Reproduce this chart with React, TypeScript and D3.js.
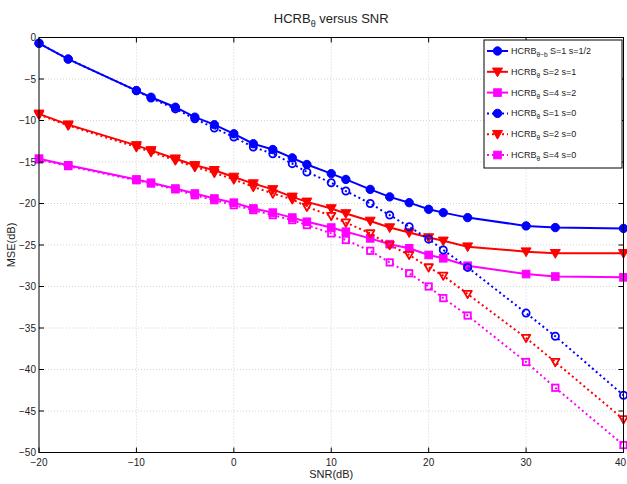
import * as d3 from "d3";

// SNR sample points (dB)
const snr = [-20, -17, -10, -8.5, -6, -4, -2, 0, 2, 4, 6, 7.5, 10, 11.5, 14, 16, 18, 20, 21.5, 24, 30, 33, 40];

// MSE (dB) per configuration
const s1Half = [-0.7, -2.6, -6.4, -7.2, -8.4, -9.6, -10.5, -11.6, -12.8, -13.5, -14.5, -15.3, -16.4, -17.1, -18.3, -19.2, -19.9, -20.7, -21.1, -21.7, -22.7, -22.9, -23.0];
const s2One = [-9.2, -10.5, -13.0, -13.6, -14.6, -15.4, -16.0, -16.8, -17.6, -18.3, -19.2, -19.8, -20.6, -21.2, -22.1, -22.9, -23.5, -24.1, -24.5, -25.2, -25.8, -26.0, -26.0];
const s4Two = [-14.6, -15.4, -17.1, -17.5, -18.2, -18.8, -19.4, -19.9, -20.6, -21.1, -21.7, -22.2, -22.9, -23.4, -24.2, -24.9, -25.4, -26.2, -26.6, -27.5, -28.5, -28.8, -28.9];
const s1Zero = [-0.7, -2.6, -6.4, -7.3, -8.6, -9.8, -10.9, -12.0, -13.2, -14.0, -15.2, -16.2, -17.5, -18.5, -20.0, -21.4, -22.8, -24.3, -25.6, -27.7, -33.2, -36.0, -43.1];
const s2Zero = [-9.3, -10.6, -13.2, -13.8, -14.8, -15.6, -16.3, -17.1, -18.0, -18.8, -19.5, -20.4, -21.5, -22.3, -23.6, -25.0, -26.2, -27.7, -28.7, -30.9, -36.2, -39.1, -46.0];
const s4Zero = [-14.7, -15.5, -17.2, -17.6, -18.3, -19.0, -19.6, -20.2, -20.8, -21.4, -22.0, -22.6, -23.6, -24.4, -25.7, -27.1, -28.4, -30.0, -31.4, -33.5, -39.1, -42.2, -49.1];

const xTicks = [-20, -10, 0, 10, 20, 30, 40];
const yTicks = [0, -5, -10, -15, -20, -25, -30, -35, -40, -45, -50];

type Marker = "circle" | "triangle" | "square";

interface Series {
  sub: string;
  label: string;
  values: number[];
  color: string;
  dotted: boolean;
  marker: Marker;
}

const series: Series[] = [
  { sub: "θ−b", label: " S=1 s=1/2", values: s1Half, color: "#0000ff", dotted: false, marker: "circle" },
  { sub: "θ", label: " S=2 s=1", values: s2One, color: "#ff0000", dotted: false, marker: "triangle" },
  { sub: "θ", label: " S=4 s=2", values: s4Two, color: "#ff00ff", dotted: false, marker: "square" },
  { sub: "θ", label: " S=1 s=0", values: s1Zero, color: "#0000ff", dotted: true, marker: "circle" },
  { sub: "θ", label: " S=2 s=0", values: s2Zero, color: "#ff0000", dotted: true, marker: "triangle" },
  { sub: "θ", label: " S=4 s=0", values: s4Zero, color: "#ff00ff", dotted: true, marker: "square" },
];

const W = 627;
const H = 484;
const left = 39;
const right = 623.5;
const top = 37.5;
const bottom = 452.5;
const font = "'Liberation Sans', Arial, Helvetica, sans-serif";

const MarkerShape = ({ kind, x, y, color, open }: { kind: Marker; x: number; y: number; color: string; open: boolean }) => {
  const fill = open ? "none" : color;
  const sw = open ? 1.8 : 1;
  if (kind === "circle") {
    return <circle cx={x} cy={y} r={open ? 3.6 : 4.2} fill={fill} stroke={color} strokeWidth={sw} />;
  }
  if (kind === "triangle") {
    const s = open ? 4.2 : 5;
    const pts = `${x - s},${y - s * 0.75} ${x + s},${y - s * 0.75} ${x},${y + s}`;
    return <polygon points={pts} fill={fill} stroke={color} strokeWidth={sw} strokeLinejoin="round" />;
  }
  const s = open ? 3.2 : 3.8;
  return <rect x={x - s} y={y - s} width={2 * s} height={2 * s} fill={fill} stroke={color} strokeWidth={sw} />;
};

const fmt = (t: number) => (t < 0 ? `−${-t}` : `${t}`);

export default function App() {
  const x = d3.scaleLinear().domain([-20, 40]).range([left, right]);
  const y = d3.scaleLinear().domain([-50, 0]).range([bottom, top]);

  const line = d3
    .line<number>()
    .x((_, i) => x(snr[i]))
    .y((d) => y(d));

  const legX = 484;
  const legY = 40;
  const legW = 138;
  const legH = 128;
  const rowH = 20.8;

  return (
    <svg
      width={W}
      height={H}
      style={{ position: "absolute", left: 0, top: 0, background: "#fff" }}
      fontFamily={font}
    >
      <rect x={0} y={0} width={W} height={H} fill="#fff" />

      {/* grid */}
      <g stroke="#c8c8c8" strokeWidth={0.8} strokeDasharray="1,2">
        {xTicks.slice(1, -1).map((t) => (
          <line key={"gx" + t} x1={x(t)} x2={x(t)} y1={top} y2={bottom} />
        ))}
        {yTicks.slice(1, -1).map((t) => (
          <line key={"gy" + t} x1={left} x2={right} y1={y(t)} y2={y(t)} />
        ))}
      </g>

      {/* data */}
      <defs>
        <clipPath id="plot">
          <rect x={left - 6} y={top - 6} width={right - left + 12} height={bottom - top + 12} />
        </clipPath>
      </defs>
      <g clipPath="url(#plot)">
        {series.map((s, k) => (
          <g key={k}>
            <path
              d={line(s.values) || ""}
              fill="none"
              stroke={s.color}
              strokeWidth={2}
              strokeDasharray={s.dotted ? "2,3" : undefined}
            />
            {s.values.map((v, i) => (
              <MarkerShape key={i} kind={s.marker} x={x(snr[i])} y={y(v)} color={s.color} open={s.dotted} />
            ))}
          </g>
        ))}
      </g>

      {/* axes box and ticks */}
      <rect x={left} y={top} width={right - left} height={bottom - top} fill="none" stroke="#000" strokeWidth={1} />
      <g stroke="#000" strokeWidth={1}>
        {xTicks.map((t) => (
          <g key={"tx" + t}>
            <line x1={x(t)} x2={x(t)} y1={bottom} y2={bottom - 5} />
            <line x1={x(t)} x2={x(t)} y1={top} y2={top + 5} />
          </g>
        ))}
        {yTicks.map((t) => (
          <g key={"ty" + t}>
            <line x1={left} x2={left + 5} y1={y(t)} y2={y(t)} />
            <line x1={right} x2={right - 5} y1={y(t)} y2={y(t)} />
          </g>
        ))}
      </g>

      {/* tick labels */}
      <g fontSize={10} fill="#222">
        {xTicks.map((t, i) => (
          <text
            key={"lx" + t}
            x={i === xTicks.length - 1 ? W - 1 : x(t)}
            y={bottom + 13}
            textAnchor={i === xTicks.length - 1 ? "end" : "middle"}
          >
            {fmt(t)}
          </text>
        ))}
        {yTicks.map((t) => (
          <text key={"ly" + t} x={left - 3} y={y(t) + 3.5} textAnchor="end">
            {fmt(t)}
          </text>
        ))}
      </g>

      {/* axis titles */}
      <text x={(left + right) / 2} y={478} textAnchor="middle" fontSize={11} fill="#222">
        SNR(dB)
      </text>
      <text
        transform={`translate(15,${(top + bottom) / 2}) rotate(-90)`}
        textAnchor="middle"
        fontSize={11}
        fill="#222"
      >
        MSE(dB)
      </text>

      {/* title */}
      <text x={(left + right) / 2} y={23} textAnchor="middle" fontSize={13} fill="#222">
        HCRB
        <tspan fontSize={9} dy={4}>θ</tspan>
        <tspan dy={-4}> versus SNR</tspan>
      </text>

      {/* legend */}
      <rect x={legX} y={legY} width={legW} height={legH} fill="#fff" stroke="#000" strokeWidth={1} />
      {series.map((s, k) => {
        const cy = legY + 11 + k * rowH;
        return (
          <g key={"leg" + k}>
            <line
              x1={legX + 3}
              x2={legX + 24}
              y1={cy}
              y2={cy}
              stroke={s.color}
              strokeWidth={2}
              strokeDasharray={s.dotted ? "2,3" : undefined}
            />
            <MarkerShape kind={s.marker} x={legX + 13.5} y={cy} color={s.color} open={false} />
            <text x={legX + 27} y={cy + 3} fontSize={9} fill="#222">
              HCRB
              <tspan fontSize={6.5} dy={3}>{s.sub}</tspan>
              <tspan dy={-3}>{s.label}</tspan>
            </text>
          </g>
        );
      })}
    </svg>
  );
}
